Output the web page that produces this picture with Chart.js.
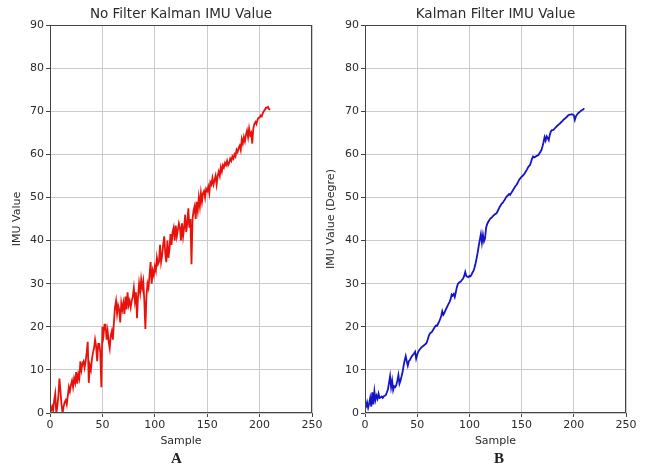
<!DOCTYPE html>
<html>
<head>
<meta charset="utf-8">
<script src="https://cdn.jsdelivr.net/npm/chart.js@4"></script>
<style>
  body { margin: 0; background: #fff; }
  #wrap { position: relative; width: 650px; height: 471px; }
  canvas { position: absolute; top: 0; }
  #left-chart { left: 0; }
  #right-chart { left: 325px; }
  .panel-label { position: absolute; top: 450px; font: bold 15px "Liberation Serif", serif; color: #222; }
</style>
</head>
<body>
<div id="wrap">
  <canvas id="left-chart" width="325" height="471"></canvas>
  <canvas id="right-chart" width="325" height="471"></canvas>
  <div class="panel-label" style="left:171px">A</div>
  <div class="panel-label" style="left:494px">B</div>
</div>
<script>
// raw IMU reading, one value per sample (0..210)
const noFilterValues = [
  0, 0.6, 1.5, 0.5, 3, 4.5, 0, 1.5, 4, 8,
  5, 2, 0, 1.5, 2.5, 3, 2, 4, 6, 5,
  6.5, 7.5, 6, 8, 7, 9.5, 6.8, 9, 8, 12,
  10, 11.5, 12, 10.5, 12, 14, 16.5, 7, 11, 10,
  12.5, 14, 15, 17, 15.5, 12, 16, 16, 14, 6,
  20, 18, 20.5, 20.5, 17, 19, 16.5, 15, 18, 19,
  17, 21, 24.5, 26, 23, 25, 24, 21, 25.5, 24,
  25.5, 23, 27, 24, 28, 25, 26, 24.5, 26, 27,
  29, 26, 28, 22, 27, 30, 28, 31, 29, 30.5,
  26, 19.5, 27, 30, 29, 32, 35, 30, 33, 32,
  34, 33, 36, 34.5, 35, 39, 35, 36.5, 39, 41,
  37, 35, 40, 36, 38, 41.5, 39, 42, 43, 40,
  43.5, 41, 42.5, 44, 43, 40, 44, 41, 43, 46,
  42, 44, 47.5, 43, 45, 34.5, 45, 47, 48, 45,
  49, 47, 50, 48, 51, 49, 51, 51.5, 50, 52,
  51.5, 52.5, 51, 53.5, 53, 54.5, 53, 54, 55, 53,
  55, 56, 55, 57, 56, 57.5, 57, 58, 57.5, 58.5,
  57.5, 58, 59, 58.5, 59.5, 59, 60, 59.5, 61, 60.5,
  61.5, 62, 61, 63.5, 62.5, 64, 63, 64.5, 65.5, 64,
  66, 64.5, 65, 62.5, 66, 67, 67.5, 67, 68, 68.5,
  68.5, 69, 68.8, 69.5, 70, 70.3, 70.8, 70.8, 71, 70.5,
  70.3
]

// kalman filtered IMU value, one value per sample (0..210)
const kalmanValues = [
  1.8, 1.5, 2.5, 1.2, 2.2, 3.5, 1.5, 4.8, 2, 5,
  3, 4, 3.3, 4.5, 3.5, 3.6, 3.8, 3.5, 3.9, 4,
  4.2, 4.8, 5.5, 7, 8.5, 6, 7.5, 5.3, 6.2, 6,
  6.5, 7.5, 8.8, 6.8, 7.5, 8.5, 9.5, 11, 12.2, 13.2,
  12, 11, 12, 12.3, 12.8, 13.2, 13.5, 13.8, 14.2, 12.6,
  13.5, 14.2, 14.6, 14.9, 15.2, 15.4, 15.6, 15.8, 16, 16.3,
  17, 17.8, 18.4, 18.6, 18.8, 19.2, 19.6, 20, 20.3, 20.2,
  20.7, 21.2, 21.8, 22.5, 23.6, 22.8, 23.2, 23.8, 24.3, 24.8,
  25.3, 25.8, 26.4, 27.5, 27.2, 27.6, 26.9, 28, 29.2, 30,
  30.2, 30.4, 30.6, 30.9, 31.2, 31.8, 32.7, 31.8, 31.6, 31.5,
  31.8, 31.7, 32.1, 32.6, 33, 33.8, 34.8, 36, 37.3, 38.8,
  40.2, 41.5, 39.5, 41.3, 39.8, 40.5, 43, 43.8, 44.3, 44.7,
  45.1, 45.3, 45.5, 45.8, 46, 46.2, 46.3, 46.8, 47.3, 47.8,
  48.2, 48.6, 48.8, 49.2, 49.5, 50, 50.3, 50.5, 50.8, 50.6,
  51, 51.4, 51.8, 52.2, 52.6, 52.9, 53.3, 53.8, 54.2, 54.5,
  54.8, 55, 55.3, 55.6, 56, 56.4, 56.9, 57.3, 57.5, 58.2,
  59, 59.5, 59.3, 59.4, 59.6, 59.7, 59.8, 60.2, 60.6, 61,
  61.8, 62.8, 64, 63.2, 64.2, 63.8, 63.3, 64.5, 65.3, 65.6,
  65.6, 65.8, 66.1, 66.3, 66.6, 66.8, 67, 67.2, 67.5, 67.7,
  68, 68.2, 68.4, 68.6, 68.9, 69.1, 69.2, 69.2, 69.3, 69.2,
  69.1, 68, 68.8, 69.2, 69.5, 69.7, 69.9, 70.1, 70.3, 70.4,
  70.7
]

const xTicks = [0, 50, 100, 150, 200, 250]
const yTicks = [0, 10, 20, 30, 40, 50, 60, 70, 80, 90]

const textColor = '#2b2b2b'
const fontFamily = '"DejaVu Sans", sans-serif'

// matplotlib style box around the plot area
const frame = {
  id: 'frame',
  afterDraw(chart) {
    const { ctx, chartArea: a } = chart
    ctx.save()
    ctx.strokeStyle = '#444'
    ctx.lineWidth = 1
    ctx.strokeRect(Math.round(a.left) + 0.5, Math.round(a.top) + 0.5,
      Math.round(a.right - a.left) - 1, Math.round(a.bottom - a.top) - 1)
    ctx.restore()
  }
}

function makeChart (id, title, yLabel, values, color, axisWidth, padRight) {
  const ctx = document.getElementById(id).getContext('2d')
  return new Chart(ctx, {
    type: 'line',
    data: {
      datasets: [{
        data: values.map((v, i) => ({ x: i, y: v })),
        borderColor: color,
        borderWidth: 1.8,
        pointRadius: 0,
        tension: 0
      }]
    },
    options: {
      responsive: false,
      animation: false,
      layout: { padding: { left: 0, right: padRight, top: 0, bottom: 0 } },
      plugins: {
        legend: { display: false },
        tooltip: { enabled: false },
        title: {
          display: true,
          text: title,
          fullSize: false,
          color: textColor,
          font: { size: 13.5, family: fontFamily, weight: 'normal' },
          padding: { top: 6.5, bottom: 2.3 }
        }
      },
      scales: {
        x: {
          type: 'linear',
          min: 0,
          max: 250,
          afterBuildTicks: s => { s.ticks = xTicks.map(v => ({ value: v })) },
          afterFit: s => { s.height = 58 },
          ticks: { color: textColor, padding: 2, maxRotation: 0, font: { size: 11, family: fontFamily } },
          grid: { color: '#cbcbcb', tickColor: '#444', tickLength: 4 },
          border: { display: false },
          title: {
            display: true,
            text: 'Sample',
            color: textColor,
            font: { size: 11, family: fontFamily },
            padding: { top: 0, bottom: 23 }
          }
        },
        y: {
          min: 0,
          max: 90,
          afterBuildTicks: s => { s.ticks = yTicks.map(v => ({ value: v })) },
          afterFit: s => { s.width = axisWidth },
          ticks: { color: textColor, padding: 2, font: { size: 11, family: fontFamily } },
          grid: { color: '#cbcbcb', tickColor: '#444', tickLength: 4 },
          border: { display: false },
          title: {
            display: true,
            text: yLabel,
            color: textColor,
            font: { size: 11, family: fontFamily },
            padding: { top: axisWidth === 50 ? 11 : 0, bottom: 0 }
          }
        }
      }
    },
    plugins: [frame]
  })
}

makeChart('left-chart', 'No Filter Kalman IMU Value', 'IMU Value', noFilterValues, '#e8120c', 50, 13)
makeChart('right-chart', 'Kalman Filter IMU Value', 'IMU Value (Degre)', kalmanValues, '#1414c8', 40, 24)
</script>
</body>
</html>
